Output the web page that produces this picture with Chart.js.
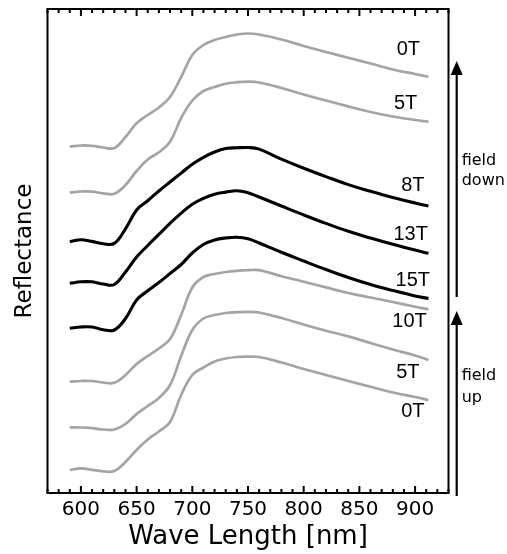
<!DOCTYPE html>
<html>
<head>
<meta charset="utf-8">
<script src="https://cdn.jsdelivr.net/npm/chart.js@4.4.1/dist/chart.umd.min.js"></script>
<style>
  html, body { margin: 0; padding: 0; background: #fff; }
  canvas { display: block; }
</style>
</head>
<body>
<canvas id="chart" width="507" height="554"></canvas>
<script>
// wavelengths (nm) shared by all spectra
const wavelengths = [590, 600, 610, 620, 630, 640, 650, 660, 670, 680, 690, 700, 710, 720,
                     730, 740, 750, 760, 780, 800, 820, 840, 860, 880, 900, 912];

// reflectance, offset per curve (a.u.), top to bottom
const down0T  = [34.53, 34.65, 34.62, 34.45, 34.40, 35.50, 36.87, 37.70, 38.45, 39.50, 41.50, 43.70, 44.70,
                 45.20, 45.50, 45.75, 45.85, 45.75, 45.25, 44.60, 44.00, 43.42, 42.85, 42.25, 41.80, 41.53];
const down5T  = [29.93, 30.05, 30.03, 29.87, 29.82, 30.70, 32.10, 33.25, 33.97, 35.03, 37.40, 39.15, 40.10,
                 40.50, 40.83, 40.97, 41.03, 40.95, 40.40, 39.75, 39.15, 38.56, 38.00, 37.55, 37.20, 37.03];
const down8T  = [25.03, 25.23, 25.06, 24.83, 24.86, 26.32, 28.20, 29.13, 30.10, 31.00, 31.89, 32.78, 33.47,
                 34.00, 34.34, 34.42, 34.45, 34.29, 33.28, 32.38, 31.54, 30.74, 30.07, 29.45, 28.90, 28.60];
const down13T = [20.87, 21.02, 21.02, 20.80, 20.75, 22.00, 23.50, 24.65, 25.76, 26.87, 27.89, 28.78, 29.37,
                 29.78, 29.99, 30.13, 29.92, 29.50, 28.60, 27.71, 26.86, 26.07, 25.40, 24.77, 24.19, 23.87];
const up15T   = [16.37, 16.50, 16.50, 16.22, 16.20, 17.35, 19.20, 20.12, 20.95, 21.85, 22.75, 23.90, 24.75,
                 25.20, 25.40, 25.47, 25.32, 24.90, 23.97, 23.10, 22.25, 21.45, 20.75, 20.15, 19.60, 19.35];
const up10T   = [11.03, 11.10, 11.10, 10.95, 10.92, 11.70, 12.80, 13.60, 14.35, 15.30, 17.70, 20.45, 21.50,
                 21.80, 22.00, 22.12, 22.18, 22.18, 21.58, 21.03, 20.46, 19.90, 19.45, 19.00, 18.53, 18.27];
const up5T    = [6.47, 6.45, 6.38, 6.25, 6.25, 6.80, 7.80, 8.60, 9.40, 10.70, 13.60, 16.20, 17.35,
                 17.70, 17.90, 17.98, 18.02, 17.95, 17.40, 16.75, 16.13, 15.56, 14.90, 14.25, 13.65, 13.20];
const up0T    = [2.20, 2.37, 2.22, 2.07, 2.10, 3.00, 4.20, 5.25, 6.05, 7.00, 9.70, 11.70, 12.45,
                 13.05, 13.35, 13.50, 13.53, 13.50, 12.95, 12.30, 11.70, 11.10, 10.53, 9.95, 9.50, 9.20];

const series = [down0T, down5T, down8T, down13T, up15T, up10T, up5T, up0T];
const curveLabels = ['0T', '5T', '8T', '13T', '15T', '10T', '5T', '0T'];
const xTickValues = [600, 650, 700, 750, 800, 850, 900];

const GRAY = '#a4a4a4';
const lineColors = [GRAY, GRAY, '#000', '#000', '#000', GRAY, GRAY, GRAY];
// where each curve label sits, in data units (nm, reflectance)
const labelPos = [[894, 44.3], [891.5, 38.9], [898, 30.7], [896, 25.8],
                  [898, 21.2], [895, 17.03], [893.5, 11.93], [898, 8.03]];

const font = 'DejaVu Sans';

const decorations = {
    id: 'decorations',
    afterDatasetsDraw(chart) {
        const { ctx, chartArea: a, scales: { x, y } } = chart;
        ctx.save();

        // frame
        ctx.strokeStyle = '#000';
        ctx.lineWidth = 2;
        ctx.strokeRect(a.left, a.top, a.right - a.left, a.bottom - a.top);

        // inward ticks, top and bottom
        ctx.lineWidth = 2;
        for (let w = 570; w <= 930; w += 10) {
            const px = x.getPixelForValue(w);
            const len = w % 50 === 0 ? 7 : 4;
            ctx.beginPath();
            ctx.moveTo(px, a.bottom);
            ctx.lineTo(px, a.bottom - len);
            ctx.moveTo(px, a.top);
            ctx.lineTo(px, a.top + len);
            ctx.stroke();
        }

        // curve labels
        ctx.fillStyle = '#000';
        ctx.font = '20px "Liberation Sans"';
        ctx.textAlign = 'center';
        ctx.textBaseline = 'middle';
        curveLabels.forEach((t, i) => {
            ctx.fillText(t, x.getPixelForValue(labelPos[i][0]), y.getPixelForValue(labelPos[i][1]));
        });

        // field arrows
        const ax = a.right + 8.2;
        const arrow = (tipV, tailV) => {
            const tip = y.getPixelForValue(tipV);
            const tail = y.getPixelForValue(tailV);
            ctx.lineWidth = 2.2;
            ctx.beginPath();
            ctx.moveTo(ax, tip + 12);
            ctx.lineTo(ax, tail);
            ctx.stroke();
            ctx.beginPath();
            ctx.moveTo(ax, tip);
            ctx.lineTo(ax - 6, tip + 14);
            ctx.lineTo(ax + 6, tip + 14);
            ctx.closePath();
            ctx.fill();
        };
        arrow(43.1, 19.5);
        arrow(18.1, -0.4);

        ctx.font = '16px "' + font + '"';
        ctx.textAlign = 'left';
        ctx.fillText('field', ax + 5, y.getPixelForValue(33.1));
        ctx.fillText('down', ax + 5, y.getPixelForValue(31.1));
        ctx.fillText('field', ax + 5, y.getPixelForValue(11.6));
        ctx.fillText('up', ax + 5, y.getPixelForValue(9.4));

        ctx.restore();
    }
};

new Chart(document.getElementById('chart'), {
    type: 'line',
    data: {
        datasets: series.map((s, i) => ({
            data: wavelengths.map((w, j) => ({ x: w, y: s[j] })),
            borderColor: lineColors[i],
            borderWidth: lineColors[i] === GRAY ? 2.7 : 3.1,
            pointRadius: 0,
            tension: 0.4,
            fill: false
        }))
    },
    options: {
        responsive: false,
        animation: false,
        layout: { padding: { left: 0, right: 58.5, top: 9, bottom: 0 } },
        plugins: { legend: { display: false }, tooltip: { enabled: false } },
        scales: {
            x: {
                type: 'linear',
                min: 570,
                max: 930,
                afterBuildTicks: s => { s.ticks = xTickValues.map(v => ({ value: v })); },
                afterFit: s => { s.height = 61; },
                grid: { display: false, drawTicks: false },
                border: { display: false },
                ticks: { color: '#000', font: { family: font, size: 20 }, padding: 5, maxRotation: 0, autoSkip: false },
                title: { display: true, text: 'Wave Length [nm]', color: '#000',
                         font: { family: font, size: 26 }, padding: { top: 0, bottom: 1 } }
            },
            y: {
                min: -0.1,
                max: 48.3,
                afterFit: s => { s.width = 47.5; },
                grid: { display: false, drawTicks: false },
                border: { display: false },
                ticks: { display: false },
                title: { display: true, text: 'Reflectance', color: '#000',
                         font: { family: font, size: 23 }, padding: { top: 11, bottom: 0 } }
            }
        }
    },
    plugins: [decorations]
});
</script>
</body>
</html>
